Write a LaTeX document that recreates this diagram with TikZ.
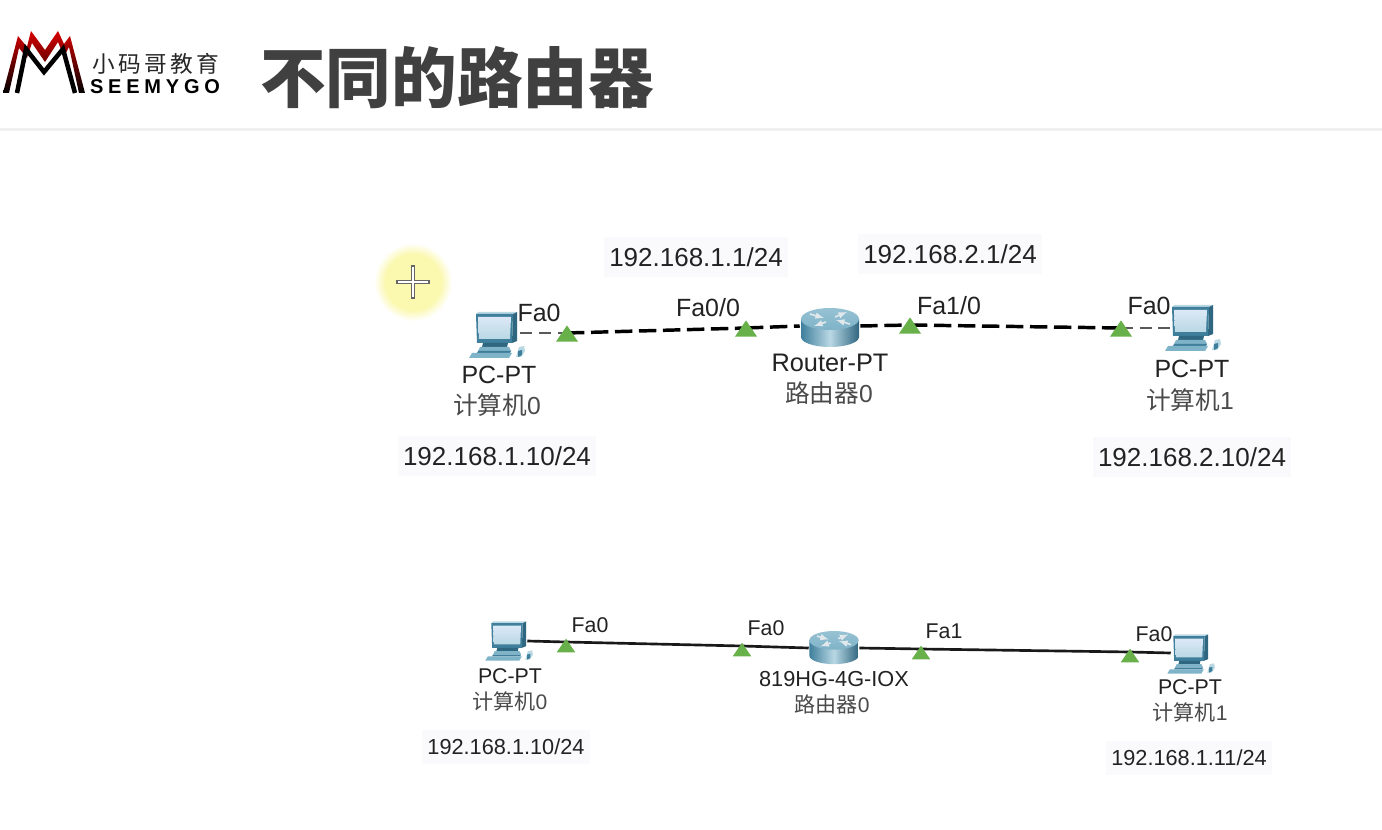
\documentclass[tikz,border=0pt]{standalone}
\usepackage{fontspec}
\setmainfont{Liberation Sans}
\newfontfamily\cjk{Noto Sans CJK SC}
\newfontfamily\cjkspaced[LetterSpace=15]{Noto Sans CJK SC}
\newfontfamily\latspaced[LetterSpace=24]{Liberation Sans}
\usetikzlibrary{shapes.geometric,backgrounds}
\definecolor{txt}{HTML}{222222}
\definecolor{cjktxt}{HTML}{4A4A4A}
\definecolor{tealA}{HTML}{3F7F9C}
\definecolor{tealB}{HTML}{7FB3C8}
\definecolor{tealC}{HTML}{B9D8E4}
\definecolor{tealD}{HTML}{2F6680}
\definecolor{screenc}{HTML}{DCE8F6}
\definecolor{trig}{HTML}{67B04A}
\definecolor{ipbg}{HTML}{FAFAFC}
\definecolor{halo}{HTML}{FBF8B0}
\pgfdeclareradialshading{haloshade}{\pgfpoint{0bp}{0bp}}{color(0bp)=(halo); color(18bp)=(halo); color(25bp)=(white); color(50bp)=(white)}
\newcommand{\fs}[1]{\fontsize{#1}{#1}\selectfont}
\tikzset{
  x=0.75pt,y=-0.75pt,
  lbl/.style={inner sep=0pt,text=txt,font=\fs{18.7pt}},
  lbs/.style={inner sep=0pt,text=txt,font=\fs{16pt}},
  ipA/.style={inner sep=0pt,text=txt,font=\fs{19.5pt},fill=ipbg,inner xsep=4pt,inner ysep=8pt},
  ipB/.style={inner sep=0pt,text=txt,font=\fs{16.3pt},fill=ipbg,inner xsep=4pt,inner ysep=7pt},
  cja/.style={inner sep=0pt,text=cjktxt,font=\fs{18.5pt}},
  cjb/.style={inner sep=0pt,text=cjktxt,font=\fs{15.8pt}},
  tri/.style={regular polygon,regular polygon sides=3,fill=trig,inner sep=0pt,minimum size=19pt,yscale=0.85,yshift=-2.8pt},
  trismall/.style={tri,minimum size=16pt,yshift=-2.3pt},
  iconbox/.style={inner sep=0pt,minimum width=#1*0.75pt,minimum height=#1*0.75pt},
  thinlink/.style={draw=black!65,line width=1.2pt,dash pattern=on 9pt off 5pt},
  thicklink/.style={draw=black,line width=2.6pt,dash pattern=on 13pt off 5pt},
  solidlink/.style={draw=black!90,line width=2pt},
  pcicon/.pic={
    \fill[tealC] (-20,-23) -- (19,-23) -- (15,-21) -- (-22,-21) -- cycle;
    \fill[tealD] (15,-21) -- (19,-23) -- (19,6) -- (14,8) -- cycle;
    \fill[tealA] (-22,-21) -- (15,-21) -- (14,8) -- (-21,8) -- cycle;
    \shade[top color=screenc,bottom color=tealC] (-20,-18) -- (13,-18) -- (12,4) -- (-19,4) -- cycle;
    \fill[tealD] (-15,8) -- (10,8) -- (9,12) -- (-16,12) -- cycle;
    \fill[tealB] (-18,12) -- (11,12) -- (13,16) -- (-20,16) -- cycle;
    \fill[tealA] (-20,16) -- (13,16) -- (12,18) -- (-21,18) -- cycle;
    \fill[tealB] (-26,18) -- (14,18) -- (11,23) -- (-29,23) -- cycle;
    \fill[tealC] (21,12) -- (26,11) -- (27,16) -- (23,22) -- (18,22) -- cycle;
    \fill[tealA] (20,16) -- (24,15) -- (24,20) -- (20,22) -- cycle;
  },
  routericon/.pic={
    \shade[left color=tealA,right color=tealD,middle color=tealC] (-29,-9) -- (-29,9) arc[start angle=180,end angle=0,x radius=29,y radius=10] -- (29,-9) -- cycle;
    \shade[top color=tealB!60!tealC,bottom color=tealB] (0,-9) ellipse[x radius=29,y radius=11];
    \draw[white!85!tealD,line width=1.2pt,-latex] (-20,-14) -- (-6,-10);
    \draw[white!85!tealD,line width=1.2pt,-latex] (20,-4) -- (6,-8);
    \draw[white!85!tealD,line width=1.2pt,-latex] (-4,-6) -- (-16,-2);
    \draw[white!85!tealD,line width=1.2pt,-latex] (5,-11) -- (17,-16);
  }
}
\begin{document}
\begin{tikzpicture}
\useasboundingbox (0,0) rectangle (1382,830);
\begin{scope}[on background layer]
  \fill[white] (0,0) rectangle (1382,830);
  \fill[black!6] (0,128) rectangle (1382,131);
  \shade[shading=haloshade] (413,282) circle[radius=39];
\end{scope}

% header
\shade[top color=red!85!black,bottom color=black] (3,93) -- (18,36) -- (27,47) -- (31,31) -- (45,50) -- (58,31) -- (64,44) -- (70,36) -- (85,93) -- (79,93) -- (69,47) -- (64,57) -- (58,42) -- (45,62) -- (32,43) -- (27,58) -- (19,48) -- (9,93) -- cycle;
\draw[black,line width=3.4pt,line join=miter] (17,93) -- (26,49) -- (44,72) -- (63,49) -- (75,93);
\node[inner sep=0pt,text=black!85,font=\fs{17pt}\cjkspaced] (logocn) at (156,64) {小码哥教育};
\node[inner sep=0pt,text=black,font=\fs{15pt}\latspaced\bfseries] (logoen) at (155,87) {SEEMYGO};
\node[inner sep=0pt,text=black!75,font=\fs{49.2pt}\cjk\bfseries] (title) at (457,78) {不同的路由器};

% cursor
\draw[black!60,line width=2.6pt] (396,282) -- (430,282) (413,265) -- (413,299);
\draw[white,line width=0.9pt] (398,282) -- (428,282) (413,267) -- (413,297);

% top network
\coordinate (l1) at (567,333);
\coordinate (l2) at (746,328);
\coordinate (l3) at (910,325);
\coordinate (l4) at (1121,328);
\node[iconbox=44] (pc0) at (498,333) {};
\node[iconbox=60] (r0) at (830,326) {};
\node[iconbox=44] (pc1) at (1192,328) {};
\pic at (498,335) {pcicon};
\pic at (830,328) {routericon};
\pic at (1194,328) {pcicon};
\node[tri] (t1) at (l1) {};
\node[tri] (t2) at (l2) {};
\node[tri] (t3) at (l3) {};
\node[tri] (t4) at (l4) {};
\begin{scope}[on background layer]
  \draw[thinlink] (pc0.east) -- (l1);
  \draw[thicklink] (l1) -- (l2);
  \draw[thicklink] (l2) -- (r0.west);
  \draw[thicklink] (r0.east) -- (l3);
  \draw[thicklink] (l3) -- (l4);
  \draw[thinlink] (l4) -- (pc1.west);
\end{scope}
\node[lbl] (la1) at (539,313) {Fa0};
\node[lbl] (la2) at (708,308) {Fa0/0};
\node[lbl] (la3) at (949,306) {Fa1/0};
\node[lbl] (la4) at (1149,306) {Fa0};
\node[lbl] (la5) at (499,375) {PC-PT};
\node[cja] (la6) at (497,405) {{\cjk 计算机}0};
\node[lbl,font=\fs{19pt}] (la7) at (830,363) {Router-PT};
\node[cja] (la8) at (829,393) {{\cjk 路由器}0};
\node[lbl] (la9) at (1192,369) {PC-PT};
\node[cja] (la10) at (1190,400) {{\cjk 计算机}1};
\node[ipA] (ip1) at (696,257) {192.168.1.1/24};
\node[ipA] (ip2) at (950,254) {192.168.2.1/24};
\node[ipA] (ip3) at (497,456) {192.168.1.10/24};
\node[ipA] (ip4) at (1192,457) {192.168.2.10/24};

% bottom network
\coordinate (l5) at (566,642);
\coordinate (l6) at (742,646);
\coordinate (l7) at (921,649);
\coordinate (l8) at (1130,652);
\node[iconbox=38] (pc2) at (508,641) {};
\node[iconbox=50] (r1) at (834,648) {};
\node[iconbox=38] (pc3) at (1190,653) {};
\pic[scale=0.85] at (510,641) {pcicon};
\pic[scale=0.85] at (834,648) {routericon};
\pic[scale=0.85] at (1192,654) {pcicon};
\node[trismall] (t5) at (l5) {};
\node[trismall] (t6) at (l6) {};
\node[trismall] (t7) at (l7) {};
\node[trismall] (t8) at (l8) {};
\begin{scope}[on background layer]
  \draw[solidlink] (pc2.east) -- (l5);
  \draw[solidlink] (l5) -- (l6);
  \draw[solidlink] (l6) -- (r1.west);
  \draw[solidlink] (r1.east) -- (l7);
  \draw[solidlink] (l7) -- (l8);
  \draw[solidlink] (l8) -- (pc3.west);
\end{scope}
\node[lbs] (lb1) at (590,625) {Fa0};
\node[lbs] (lb2) at (766,628) {Fa0};
\node[lbs] (lb3) at (944,631) {Fa1};
\node[lbs] (lb4) at (1154,634) {Fa0};
\node[lbs] (lb5) at (510,676) {PC-PT};
\node[cjb] (lb6) at (510,701) {{\cjk 计算机}0};
\node[lbs,font=\fs{16.3pt}] (lb7) at (834,679) {819HG-4G-IOX};
\node[cjb] (lb8) at (832,704) {{\cjk 路由器}0};
\node[lbs] (lb9) at (1190,687) {PC-PT};
\node[cjb] (lb10) at (1190,712) {{\cjk 计算机}1};
\node[ipB] (ip5) at (506,747) {192.168.1.10/24};
\node[ipB] (ip6) at (1189,758) {192.168.1.11/24};
\end{tikzpicture}
\end{document}
